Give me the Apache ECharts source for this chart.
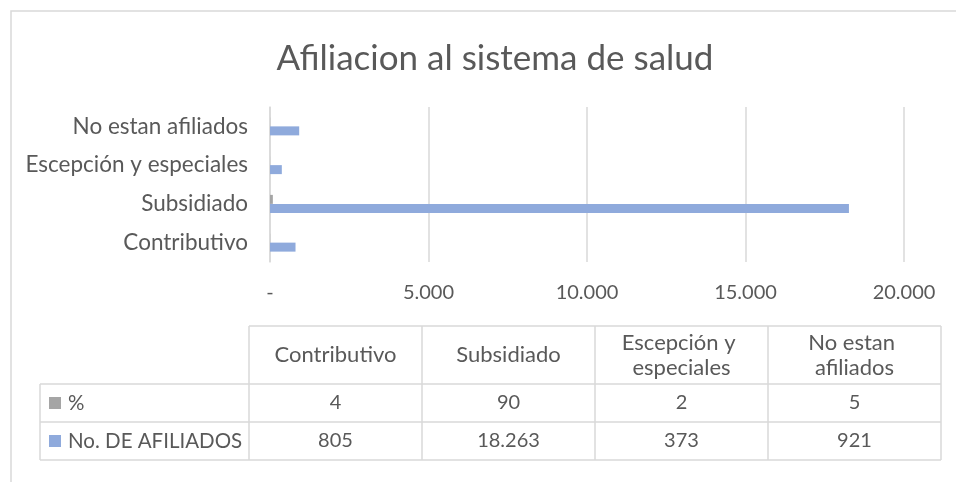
<!DOCTYPE html>
<html>
<head>
<meta charset="utf-8">
<script src="https://cdn.jsdelivr.net/npm/echarts@6/dist/echarts.min.js"></script>
<style>
  html, body { margin: 0; padding: 0; background: #fff; }
  #chart { width: 956px; height: 482px; }
</style>
</head>
<body>
<div id="chart"></div>
<script>
// datos
var categorias = ['Contributivo', 'Subsidiado', 'Escepción y especiales', 'No estan afiliados']
var porcentaje = [4, 90, 2, 5]
var afiliados = [805, 18263, 373, 921]
var seriesNames = ['%', 'No. DE AFILIADOS']
var seriesColors = ['#A5A5A5', '#8FAADC']
var ticksX = [0, 5000, 10000, 15000, 20000]

var FONT = 'Lato'
var TXT = '#595959'
var LINE = '#D9D9D9'

function fmtMiles(v) {
  if (v === 0) return '-'
  return String(v).replace(/\B(?=(\d{3})+(?!\d))/g, '.')
}

// tabla de datos (como la de Excel)
function buildTable() {
  var els = []
  var x0 = 249, colW = 173, legX = 40
  var yTop = 326, yH = 384, rowH = 38
  var xEnd = x0 + colW * categorias.length
  var yEnd = yH + rowH * seriesNames.length

  els.push({ type: 'line', shape: { x1: x0, y1: yTop, x2: xEnd, y2: yTop }, style: { stroke: LINE, lineWidth: 1.5 } })
  for (var r = 0; r <= seriesNames.length; r++) {
    var yy = yH + r * rowH
    els.push({ type: 'line', shape: { x1: legX, y1: yy, x2: xEnd, y2: yy }, style: { stroke: LINE, lineWidth: 1.5 } })
  }
  els.push({ type: 'line', shape: { x1: legX, y1: yH, x2: legX, y2: yEnd }, style: { stroke: LINE, lineWidth: 1.5 } })
  for (var c = 0; c <= categorias.length; c++) {
    var xx = x0 + c * colW
    els.push({ type: 'line', shape: { x1: xx, y1: yTop, x2: xx, y2: yEnd }, style: { stroke: LINE, lineWidth: 1.5 } })
  }

  // encabezados
  for (var i = 0; i < categorias.length; i++) {
    els.push({
      type: 'text',
      x: x0 + colW * i + colW / 2,
      y: (yTop + yH) / 2,
      style: {
        text: categorias[i], width: 150, overflow: 'break',
        fontFamily: FONT, fontSize: 22, fill: TXT, lineHeight: 25,
        align: 'center', verticalAlign: 'middle'
      }
    })
  }

  var filas = [porcentaje, afiliados]
  for (var s = 0; s < seriesNames.length; s++) {
    var cy = yH + rowH * s + rowH / 2
    els.push({ type: 'rect', shape: { x: 49, y: cy - 6, width: 12, height: 12 }, style: { fill: seriesColors[s] } })
    els.push({
      type: 'text', x: 68, y: cy,
      style: { text: seriesNames[s], fontFamily: FONT, fontSize: 20.5, fill: TXT, verticalAlign: 'middle' }
    })
    for (var j = 0; j < categorias.length; j++) {
      els.push({
        type: 'text', x: x0 + colW * j + colW / 2, y: cy,
        style: {
          text: fmtMiles(filas[s][j]), fontFamily: FONT, fontSize: 20, fill: TXT,
          align: 'center', verticalAlign: 'middle'
        }
      })
    }
  }
  return els
}

var chart = echarts.init(document.getElementById('chart'))

var graphics = [{
  type: 'rect', z: -10,
  shape: { x: 11, y: 11, width: 1000, height: 1000 },
  style: { fill: 'none', stroke: LINE, lineWidth: 1.5 }
}].concat(buildTable())

chart.setOption({
  animation: false,
  title: {
    text: 'Afiliacion al sistema de salud',
    left: 490, top: 36, textAlign: 'center',
    textStyle: { fontFamily: FONT, fontSize: 35, fontWeight: 'normal', color: TXT }
  },
  grid: { left: 270, right: 52, top: 107, bottom: 220 },
  xAxis: {
    type: 'value',
    min: ticksX[0], max: ticksX[ticksX.length - 1], interval: 5000,
    axisLine: { show: false },
    axisTick: { show: false },
    axisLabel: { formatter: fmtMiles, fontFamily: FONT, fontSize: 20, color: TXT, margin: 21 },
    splitLine: { lineStyle: { color: LINE, width: 1.5 } }
  },
  yAxis: {
    type: 'category',
    data: categorias,
    axisLine: { show: true, lineStyle: { color: LINE, width: 1.5 } },
    axisTick: { show: false },
    axisLabel: { fontFamily: FONT, fontSize: 22.5, color: TXT, margin: 22 }
  },
  series: [
    { name: seriesNames[0], type: 'bar', data: porcentaje, barWidth: 9, barGap: '0%', itemStyle: { color: seriesColors[0] } },
    { name: seriesNames[1], type: 'bar', data: afiliados, barWidth: 9, barGap: '0%', itemStyle: { color: seriesColors[1] } }
  ],
  graphic: graphics
})
</script>
</body>
</html>
